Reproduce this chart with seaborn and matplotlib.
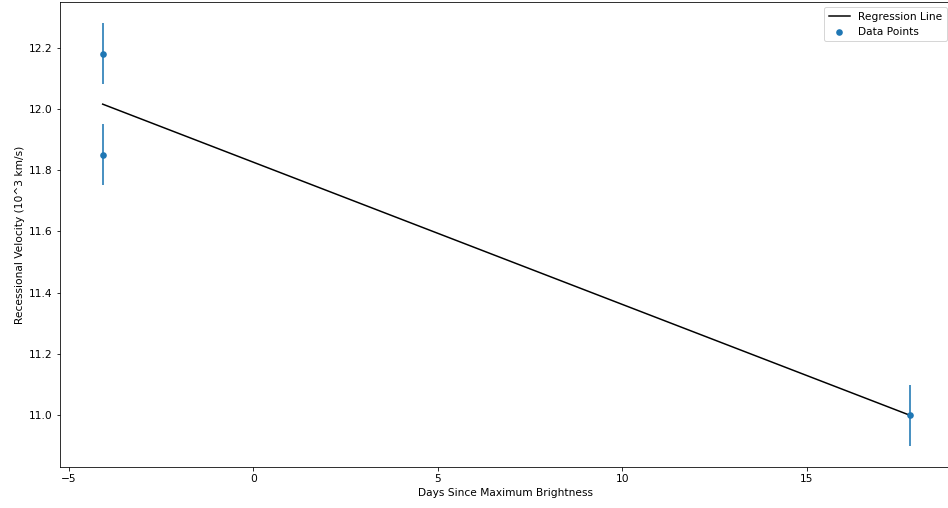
import numpy as np
import pandas as pd
import matplotlib
matplotlib.use("Agg")
import matplotlib.pyplot as plt
import seaborn as sns

# Dados
days = [-4.08, -4.06, 17.79]
velocity = [12.18, 11.85, 11.0]
velocity_err = [0.1, 0.1, 0.1]

POINT_COLOR = "#1f77b4"

df = pd.DataFrame({"days": days, "velocity": velocity, "err": velocity_err})

# Ajuste linear (linha de regressão)
slope, intercept = np.polyfit(df["days"], df["velocity"], 1)
df["fit"] = slope * df["days"] + intercept

plt.rcParams["font.family"] = ["DejaVu Sans"]
plt.rcParams["font.size"] = 10.6

fig = plt.figure(figsize=(948 / 72, 508 / 72), dpi=72)
# o eixo passa um pouco da borda direita, como no original recortado
ax = fig.add_axes([59.5 / 948, 41 / 508, 892.5 / 948, 465 / 508])

sns.lineplot(data=df.sort_values("days"), x="days", y="fit", color="black",
             label="Regression Line", ax=ax, linewidth=1.5)
ax.errorbar(df["days"], df["velocity"], yerr=df["err"], fmt="none",
            ecolor=POINT_COLOR, elinewidth=1.6)
sns.scatterplot(data=df, x="days", y="velocity", color=POINT_COLOR, s=44,
                edgecolor=POINT_COLOR, linewidth=0, label="Data Points", ax=ax, zorder=3)

ax.set_xlim(-5.25, 18.93)
ax.set_xlabel("Days Since Maximum Brightness")
ax.set_ylabel("Recessional Velocity (10^3 km/s)")
ax.legend(loc="upper right")

fig.savefig("out.png", dpi=72)
